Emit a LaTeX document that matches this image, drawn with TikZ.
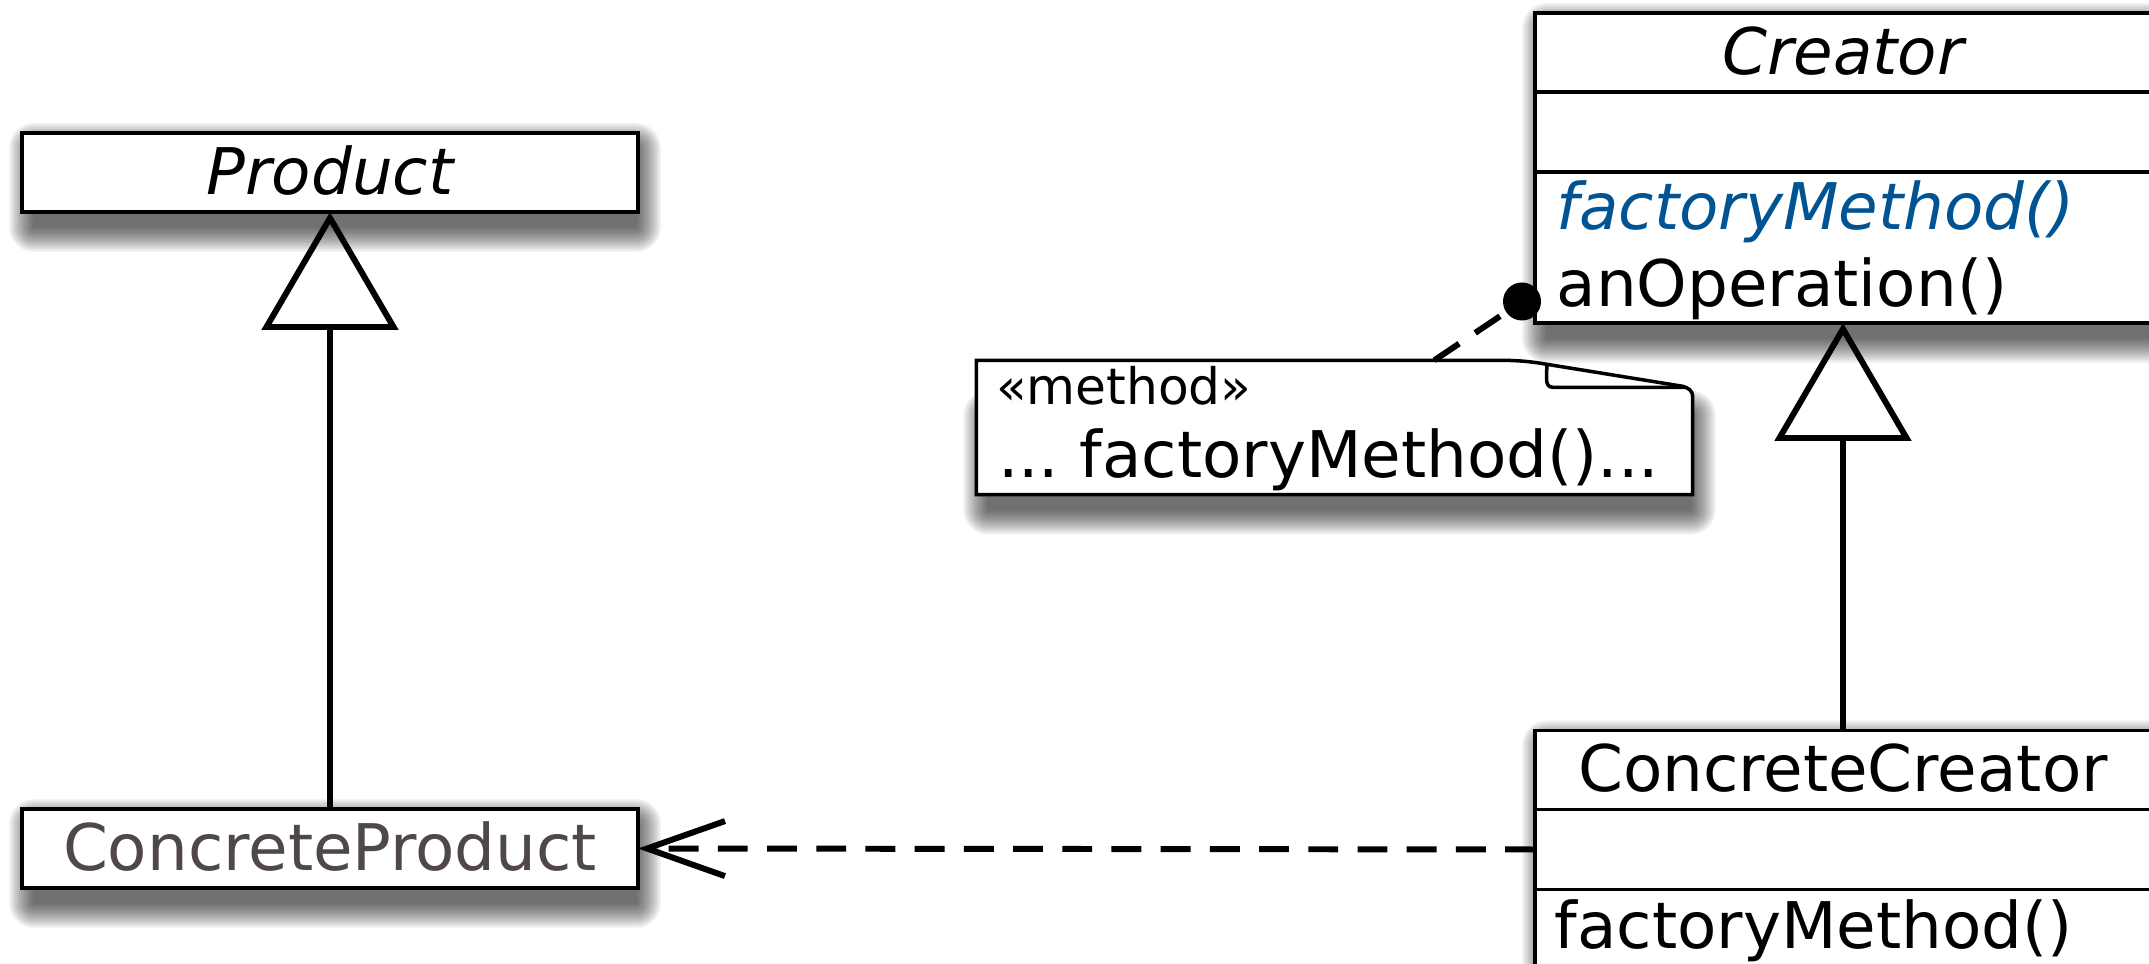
\documentclass[tikz,border=0pt]{standalone}
\usepackage{fontspec}
\setmainfont{DejaVu Sans}
\usetikzlibrary{arrows.meta,positioning,backgrounds,calc}

\definecolor{opblue}{RGB}{0,84,147}
\definecolor{prodgray}{RGB}{80,72,72}

% soft drop shadow between two corners
\newcommand{\dropshadow}[2]{%
  \foreach \r in {0.01,0.025,...,0.26}{%
    \fill[black, opacity=0.048, rounded corners=\r cm]
      ($(#1)+(0.12-\r,-0.15+\r)$) rectangle ($(#2)+(-0.02+\r,-0.15-\r)$);
  }}

\tikzset{
  umlbox/.style={draw, line width=1pt, fill=white, minimum width=6.16cm,
    minimum height=0.79cm, inner sep=0pt, outer sep=0pt,
    text height=16.4pt, text depth=4pt},
  inherit/.style={line width=1.7pt, -{Triangle[open, length=1.18cm, width=1.36cm]}},
  depend/.style={line width=1.7pt, dash pattern=on 8.5pt off 5.5pt,
    -{Straight Barb[length=0.78cm, width=0.55cm]}},
  notelink/.style={line width=1.7pt, dash pattern=on 8.5pt off 5.5pt},
  optext/.style={anchor=base west, inner sep=0pt},
}

\begin{document}
\begin{tikzpicture}[font=\fontsize{18.3}{22}\selectfont]
\useasboundingbox (0,0) rectangle (21.49,9.64);

% Product side
\node[umlbox] (prod) at (3.30,7.915) {\itshape Product};
\node[umlbox] (cprod) at (3.30,1.155) {\color{prodgray}ConcreteProduct};

% Creator
\node[umlbox] (cre-name) at (18.43,9.115) {\itshape Creator};
\node[umlbox, below=0pt of cre-name, minimum height=0.80cm] (cre-attr) {};
\node[umlbox, below=0pt of cre-attr, minimum height=1.51cm] (cre-ops) {};
\node[optext] (cre-fm) at ([shift={(0.21,-0.58)}]cre-ops.north west)
  {\color{opblue}\itshape factoryMethod()};
\node[optext] (cre-op) at ([shift={(0.21,-1.35)}]cre-ops.north west) {anOperation()};

% ConcreteCreator
\node[umlbox] (cc-name) at (18.43,1.94) {ConcreteCreator};
\node[umlbox, below=0pt of cc-name, minimum height=0.80cm] (cc-attr) {};
\node[umlbox, below=0pt of cc-attr, minimum height=1.51cm] (cc-ops) {};
\node[optext] (cc-fm) at ([shift={(0.19,-0.59)}]cc-ops.north west) {factoryMethod()};

% Note
\node[minimum width=7.15cm, minimum height=1.33cm, inner sep=0pt] (note) at (13.345,5.365) {};
\coordinate (ne) at (note.north east);
\draw[line width=1pt, fill=white] (note.south west) -- (note.north west)
  -- ($(ne)+(-2.09,0)$) to[out=0,in=170] ($(ne)+(-1.46,-0.04)$)
  -- ($(ne)+(-0.10,-0.26)$) to[out=-15,in=90] ($(ne)+(0,-0.36)$)
  -- (note.south east) -- cycle;
\draw[line width=1pt] ($(ne)+(-1.46,-0.04)$) to[out=-85,in=180] ($(ne)+(-1.40,-0.27)$)
  -- ($(ne)+(-0.08,-0.27)$);
\node[optext, font=\fontsize{14.3}{17}\selectfont] (note-st) at ([shift={(0.19,-0.44)}]note.north west)
  {«method»};
\node[optext] (note-body) at ([shift={(0.21,-1.17)}]note.north west) {...\ factoryMethod()...};

% Shadows
\begin{scope}[on background layer]
\dropshadow{prod.north west}{prod.south east}
\dropshadow{cprod.north west}{cprod.south east}
\dropshadow{cre-name.north west}{cre-ops.south east}
\dropshadow{cc-name.north west}{cc-ops.south east}
\dropshadow{$(note.north west)+(0,-0.4)$}{note.south east}
\end{scope}

% Connectors
\draw[inherit] (cprod.north) -- (prod.south);
\draw[inherit] (cc-name.north) -- (cre-ops.south);
\draw[depend] (cc-attr.west) -- (cprod.east);
\coordinate (opdot) at ([shift={(-0.13,-0.54)}]cre-ops.west);
\coordinate (notetop) at ([xshift=4.58cm]note.north west);
\draw[notelink] (notetop) -- (opdot);
\fill (opdot) circle (0.19cm);
\end{tikzpicture}
\end{document}
